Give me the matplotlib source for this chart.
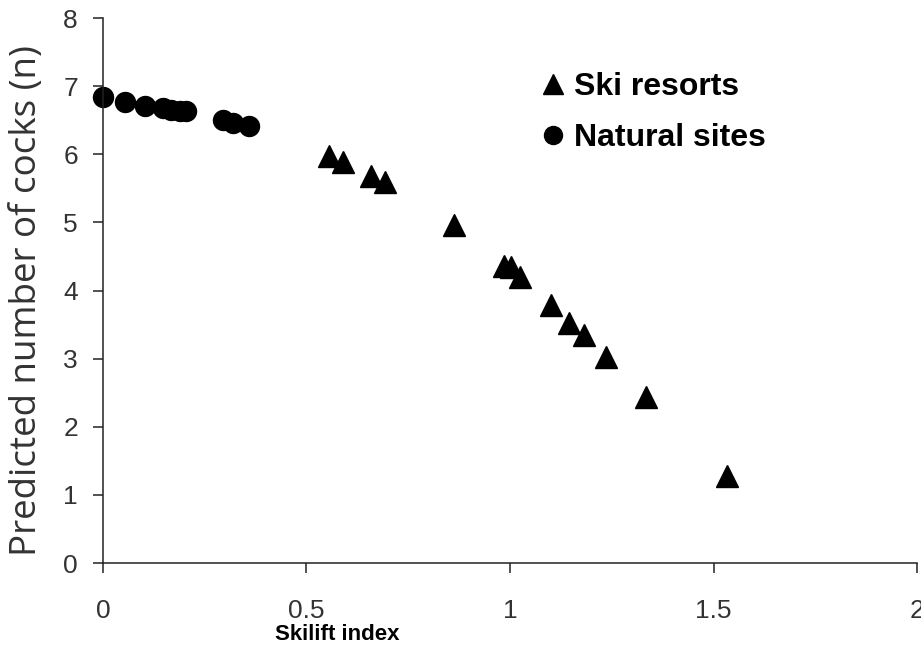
import matplotlib.pyplot as plt

# skilift index vs predicted number of cocks
ski_x = [0.555, 0.589, 0.658, 0.694, 0.863, 0.985, 1.002, 1.024, 1.100,
         1.145, 1.181, 1.235, 1.335, 1.533]
ski_y = [5.97, 5.89, 5.68, 5.59, 4.96, 4.36, 4.34, 4.20, 3.78,
         3.53, 3.35, 3.02, 2.43, 1.27]
nat_x = [0.0, 0.054, 0.103, 0.148, 0.168, 0.189, 0.205, 0.295, 0.319, 0.358]
nat_y = [6.84, 6.77, 6.71, 6.68, 6.65, 6.63, 6.63, 6.51, 6.46, 6.41]

x_ticks = [0, 0.5, 1, 1.5, 2]
x_ticklabels = ["0", "0.5", "1", "1.5", "2"]
y_ticks = [0, 1, 2, 3, 4, 5, 6, 7, 8]

fig = plt.figure(figsize=(9.21, 6.70), dpi=100)
ax = fig.add_axes([0.1118, 0.1597, 0.8839, 0.8134])

ax.plot(ski_x, ski_y, "^", color="black", markersize=15.5, label="Ski resorts",
        clip_on=False)
ax.plot(nat_x, nat_y, "o", color="black", markersize=14.4, label="Natural sites",
        clip_on=False)

ax.set_xlim(0, 2)
ax.set_ylim(0, 8)
ax.set_xticks(x_ticks)
ax.set_xticklabels(x_ticklabels)
ax.set_yticks(y_ticks)

for s in ["top", "right"]:
    ax.spines[s].set_visible(False)
for s in ["left", "bottom"]:
    ax.spines[s].set_linewidth(1.1)
    ax.spines[s].set_color("#222222")

ax.tick_params(axis="both", direction="out", length=7, width=1.1, color="#222222",
               labelsize=19, labelcolor="#333333")
ax.tick_params(axis="x", pad=19)
ax.tick_params(axis="y", pad=11)
for lab in ax.get_xticklabels() + ax.get_yticklabels():
    lab.set_family(["Liberation Sans", "DejaVu Sans"])

ax.set_xlabel("Skilift index", fontsize=16, fontweight="bold",
              family=["Liberation Sans", "DejaVu Sans"])
ax.xaxis.set_label_coords(0.288, -0.112)
ax.set_ylabel("Predicted number of cocks (n)", fontsize=26.5, color="#333333",
              family=["Open Sans", "DejaVu Sans"])
ax.yaxis.set_label_coords(-0.071, 0.481)

ax.legend(loc="upper left", bbox_to_anchor=(521 / 921, 1 - 56 / 670),
          bbox_transform=fig.transFigure, frameon=False, borderpad=0,
          handlelength=1, handletextpad=0.15, labelspacing=0.65, markerscale=0.9,
          prop={"family": "Liberation Sans", "weight": "bold", "size": 23})

fig.savefig("out.png", dpi=100)
